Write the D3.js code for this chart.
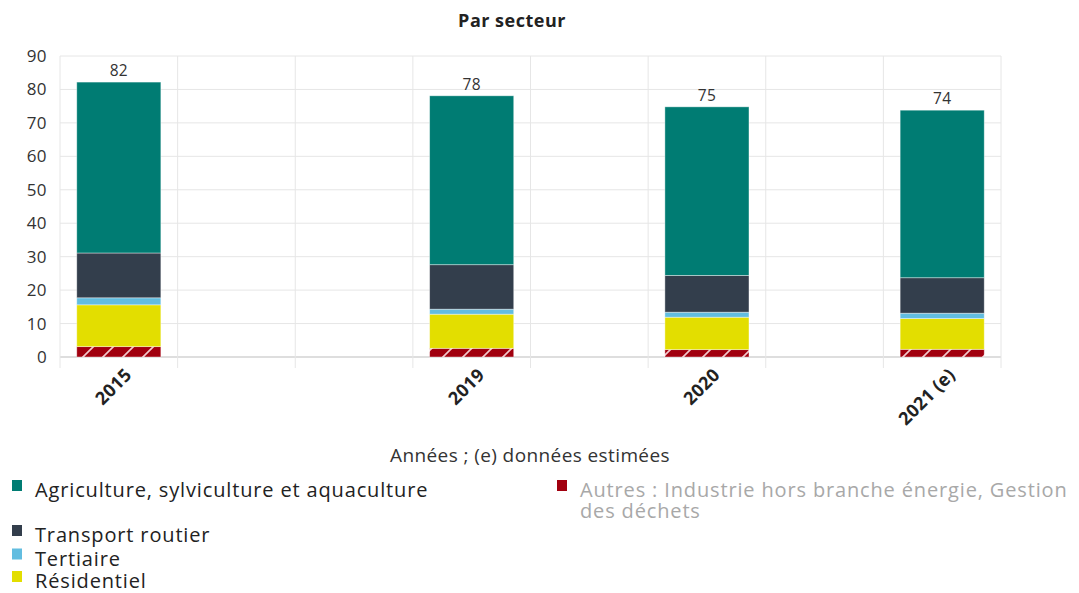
<!DOCTYPE html>
<html>
<head>
<meta charset="utf-8">
<script src="https://cdn.jsdelivr.net/npm/d3@7"></script>
<style>
  body { margin: 0; background: #fff; }
  svg { font-family: "Open Sans", "Noto Sans", sans-serif; }
</style>
</head>
<body>
<div id="chart"></div>
<script>
// categories on the x axis (empty slots are kept like in the original chart)
const categories = ["2015", "", "", "2019", "", "2020", "", "2021 (e)"];

// series values (Mt), bottom to top of the stack
const autres      = [3.1, null, null, 2.6, null, 2.2, null, 2.3];
const residentiel = [12.5, null, null, 10.2, null, 9.7, null, 9.2];
const tertiaire   = [2.1, null, null, 1.5, null, 1.5, null, 1.6];
const transport   = [13.4, null, null, 13.3, null, 11.0, null, 10.6];
const agriculture = [51.1, null, null, 50.5, null, 50.4, null, 50.1];

const yTicks = [0, 10, 20, 30, 40, 50, 60, 70, 80, 90];

const seriesNames = {
  autres: "Autres : Industrie hors branche énergie, Gestion des déchets",
  residentiel: "Résidentiel",
  tertiaire: "Tertiaire",
  transport: "Transport routier",
  agriculture: "Agriculture, sylviculture et aquaculture"
};
const seriesColors = {
  autres: "#a1000f",
  residentiel: "#e3de00",
  tertiaire: "#62bde0",
  transport: "#333e4c",
  agriculture: "#007c73"
};

var width = 1079, height = 593;
var margin = {top: 56, left: 60, right: 78, bottom: 236};

var svg = d3.select('#chart').append('svg')
  .attr('width', width)
  .attr('height', height);

// hatch for "Autres"
var defs = svg.append('defs');
var pat = defs.append('pattern')
  .attr('id', 'hatch')
  .attr('patternUnits', 'userSpaceOnUse')
  .attr('width', 20).attr('height', 20);
pat.append('rect').attr('width', 20).attr('height', 20).attr('fill', seriesColors.autres);
pat.append('path')
  .attr('d', 'M0,20 L20,0 M-5,5 L5,-5 M15,25 L25,15')
  .attr('stroke', '#f2c9cc').attr('stroke-width', 1.6);

var x = d3.scaleBand()
  .domain(d3.range(categories.length))
  .range([margin.left, width - margin.right])
  .padding(0);
var y = d3.scaleLinear()
  .domain([0, 90])
  .range([height - margin.bottom, margin.top]);

// rows of data for the stack
var rows = categories.map(function(c, i) {
  return {i: i, cat: c, autres: autres[i], residentiel: residentiel[i],
    tertiaire: tertiaire[i], transport: transport[i], agriculture: agriculture[i]};
});
var keys = ['autres', 'residentiel', 'tertiaire', 'transport', 'agriculture'];
var stacked = d3.stack().keys(keys).value(function(d, k) { return d[k] || 0; })(rows);

// grid
var grid = svg.append('g');
grid.selectAll('.hgrid')
  .data(yTicks)
  .enter().append('line')
  .attr('x1', margin.left).attr('x2', width - margin.right)
  .attr('y1', function(d) { return y(d); }).attr('y2', function(d) { return y(d); })
  .attr('stroke', function(d) { return d === 0 ? '#d3d3d3' : '#e6e6e6'; })
  .attr('stroke-width', function(d) { return d === 0 ? 1.5 : 1; });

var vlines = d3.range(categories.length + 1).map(function(i) {
  return i < categories.length ? x(i) : x(i - 1) + x.bandwidth();
});
grid.selectAll('.vgrid')
  .data(vlines)
  .enter().append('line')
  .attr('x1', function(d) { return d; }).attr('x2', function(d) { return d; })
  .attr('y1', y(90)).attr('y2', y(0) + 11)
  .attr('stroke', '#e6e6e6');

// y axis labels
svg.selectAll('.ytick')
  .data(yTicks)
  .enter().append('text')
  .attr('x', 47)
  .attr('y', function(d) { return y(d); })
  .attr('dy', '0.35em')
  .attr('text-anchor', 'end')
  .attr('font-size', 17)
  .attr('letter-spacing', 0.4)
  .attr('fill', '#333')
  .text(function(d) { return d; });

// bars
var barW = x.bandwidth() * 0.715;
var layers = svg.selectAll('.layer')
  .data(stacked)
  .enter().append('g')
  .attr('fill', function(d) { return d.key === 'autres' ? 'url(#hatch)' : seriesColors[d.key]; });
layers.selectAll('rect')
  .data(function(d) { return d.filter(function(p) { return p.data.cat !== ''; }); })
  .enter().append('rect')
  .attr('x', function(d) { return x(d.data.i) + (x.bandwidth() - barW) / 2; })
  .attr('width', barW)
  .attr('y', function(d) { return y(d[1]); })
  .attr('height', function(d) { return y(d[0]) - y(d[1]); })
  .attr('stroke', '#ffffff')
  .attr('stroke-opacity', 0.5)
  .attr('stroke-width', 0.8);

// totals
var totals = rows.filter(function(r) { return r.cat !== ''; }).map(function(r) {
  return {i: r.i, v: d3.sum(keys, function(k) { return r[k]; })};
});
svg.selectAll('.total')
  .data(totals)
  .enter().append('text')
  .attr('x', function(d) { return x(d.i) + x.bandwidth() / 2; })
  .attr('y', function(d) { return y(d.v) - 6; })
  .attr('text-anchor', 'middle')
  .attr('font-size', 15.5)
  .attr('letter-spacing', 0.3)
  .attr('fill', '#333')
  .text(function(d) { return Math.round(d.v); });

// x labels
svg.selectAll('.xtick')
  .data(totals)
  .enter().append('text')
  .attr('transform', function(d) {
    return 'translate(' + (x(d.i) + x.bandwidth() / 2 + 14) + ',' + (y(0) + 19) + ') rotate(-45)';
  })
  .attr('text-anchor', 'end')
  .attr('font-size', 18)
  .attr('font-weight', 'bold')
  .attr('letter-spacing', 0.3)
  .attr('fill', '#222')
  .text(function(d) { return categories[d.i]; });

// titles
svg.append('text')
  .attr('x', 512).attr('y', 27)
  .attr('text-anchor', 'middle')
  .attr('font-size', 18)
  .attr('font-weight', 'bold')
  .attr('letter-spacing', 0.5)
  .attr('fill', '#222')
  .text('Par secteur');

svg.append('text')
  .attr('x', 530).attr('y', 462)
  .attr('text-anchor', 'middle')
  .attr('font-size', 19)
  .attr('letter-spacing', 0.4)
  .attr('fill', '#333')
  .text('Années ; (e) données estimées');

// legend
var legendItems = [
  {key: 'agriculture', col: 0, row: 0, lines: [seriesNames.agriculture]},
  {key: 'autres', col: 1, row: 0, lines: ['Autres : Industrie hors branche énergie, Gestion', 'des déchets']},
  {key: 'transport', col: 0, row: 1, lines: [seriesNames.transport]},
  {key: 'tertiaire', col: 0, row: 2, lines: [seriesNames.tertiaire]},
  {key: 'residentiel', col: 0, row: 3, lines: [seriesNames.residentiel]}
];
var rowY = [497, 542, 565.5, 588];
var colX = [12, 557];
var legend = svg.selectAll('.legend')
  .data(legendItems)
  .enter().append('g')
  .attr('transform', function(d) { return 'translate(' + colX[d.col] + ',' + rowY[d.row] + ')'; });
legend.append('rect')
  .attr('x', 0).attr('y', -17)
  .attr('width', 10).attr('height', 11)
  .attr('fill', function(d) { return seriesColors[d.key]; });
legend.append('text')
  .attr('font-size', 20)
  .attr('letter-spacing', 0.85)
  .attr('fill', function(d) { return d.key === 'autres' ? '#a8a8a8' : '#222'; })
  .selectAll('tspan')
  .data(function(d) { return d.lines; })
  .enter().append('tspan')
  .attr('x', 23)
  .attr('dy', function(d, i) { return i === 0 ? 0 : 21; })
  .text(function(d) { return d; });
</script>
</body>
</html>
